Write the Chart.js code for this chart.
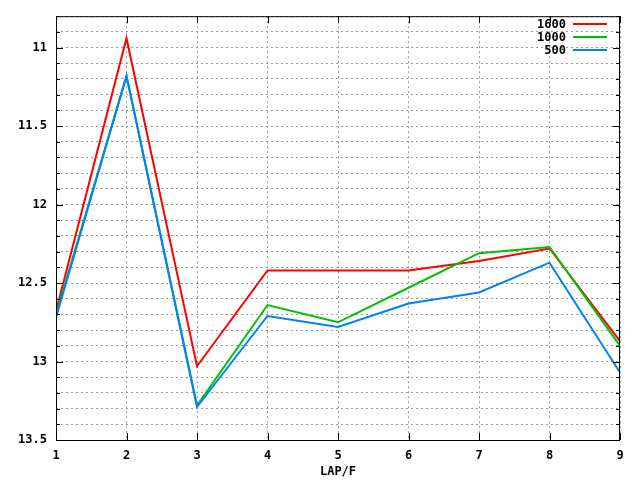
<!DOCTYPE html>
<html>
<head>
<meta charset="utf-8">
<script src="https://cdn.jsdelivr.net/npm/chart.js@4"></script>
<style>
  html, body { margin: 0; padding: 0; background: #fff; }
  #wrap { width: 640px; height: 480px; }
</style>
</head>
<body>
<div id="wrap"><canvas id="myChart" width="640" height="480"></canvas></div>
<script>
// lap numbers and times per series
var laps = [1, 2, 3, 4, 5, 6, 7, 8, 9];
var s1600 = [12.68, 10.94, 13.03, 12.42, 12.42, 12.42, 12.36, 12.28, 12.87];
var s1000 = [12.70, 11.18, 13.28, 12.64, 12.75, 12.53, 12.31, 12.27, 12.90];
var s500 = [12.72, 11.18, 13.29, 12.71, 12.78, 12.63, 12.56, 12.37, 13.07];
var seriesNames = ["1600", "1000", "500"];
var seriesColors = ["#ff0000", "#00c000", "#0080ff"];
var yMin = 10.8;
var yMax = 13.5;

var FONT = "'DejaVu Sans Mono', monospace";

function points(vals) {
  var out = [];
  for (var i = 0; i < laps.length; i++) {
    out.push({ x: laps[i], y: vals[i] });
  }
  return out;
}

function isMajor(v) {
  return Math.abs(v * 2 - Math.round(v * 2)) < 1e-6;
}

// frame, inward ticks and the legend box in the top right corner
var framePlugin = {
  id: "frame",
  afterDraw: function (chart) {
    var ctx = chart.ctx;
    var a = chart.chartArea;
    var xs = chart.scales.x;
    var ys = chart.scales.y;
    ctx.save();
    ctx.strokeStyle = "#000";
    ctx.lineWidth = 1;
    ctx.setLineDash([]);
    ctx.strokeRect(a.left + 0.5, a.top + 0.5, a.right - a.left - 1, a.bottom - a.top);

    ctx.beginPath();
    ys.ticks.forEach(function (t) {
      var py = Math.round(ys.getPixelForValue(t.value)) + 0.5;
      var len = isMajor(t.value) ? 7 : 4;
      ctx.moveTo(a.left, py);
      ctx.lineTo(a.left + len, py);
      ctx.moveTo(a.right, py);
      ctx.lineTo(a.right - len, py);
    });
    xs.ticks.forEach(function (t) {
      var px = Math.round(xs.getPixelForValue(t.value)) + 0.5;
      ctx.moveTo(px, a.bottom);
      ctx.lineTo(px, a.bottom - 7);
      ctx.moveTo(px, a.top);
      ctx.lineTo(px, a.top + 7);
    });
    ctx.stroke();

    ctx.font = "bold 12px " + FONT;
    ctx.textAlign = "right";
    ctx.textBaseline = "middle";
    for (var i = 0; i < seriesNames.length; i++) {
      var ly = 24 + i * 13;
      ctx.fillStyle = "#000";
      ctx.fillText(seriesNames[i], 566, ly + 1);
      ctx.strokeStyle = seriesColors[i];
      ctx.lineWidth = 2;
      ctx.beginPath();
      ctx.moveTo(573, ly);
      ctx.lineTo(607, ly);
      ctx.stroke();
    }
    ctx.restore();
  },
};

var ctx = document.getElementById("myChart").getContext("2d");
var myChart = new Chart(ctx, {
  type: "line",
  data: {
    datasets: [
      { label: seriesNames[0], data: points(s1600), borderColor: seriesColors[0], order: 3 },
      { label: seriesNames[1], data: points(s1000), borderColor: seriesColors[1], order: 2 },
      { label: seriesNames[2], data: points(s500), borderColor: seriesColors[2], order: 1 },
    ],
  },
  options: {
    responsive: false,
    animation: false,
    events: [],
    datasets: {
      line: { borderWidth: 2, pointRadius: 0, tension: 0, fill: false },
    },
    layout: { padding: { top: 13, right: 20, left: 0, bottom: 0 } },
    plugins: { legend: { display: false }, tooltip: { enabled: false } },
    scales: {
      x: {
        type: "linear",
        min: 1,
        max: 9,
        afterFit: function (s) { s.height = 40; },
        ticks: {
          stepSize: 1,
          padding: 9,
          color: "#000",
          font: { family: FONT, size: 12, weight: "bold" },
        },
        grid: {
          drawTicks: false,
          color: "#999999",
          lineWidth: 1,
        },
        border: { display: false, dash: [2, 3] },
        title: {
          display: true,
          text: "LAP/F",
          color: "#000",
          padding: { top: 0, bottom: 1 },
          font: { family: FONT, size: 12, weight: "bold" },
        },
      },
      y: {
        type: "linear",
        reverse: true,
        min: yMin,
        max: yMax,
        afterFit: function (s) { s.width = 56; },
        ticks: {
          stepSize: 0.1,
          autoSkip: false,
          padding: 9,
          color: "#000",
          font: { family: FONT, size: 12, weight: "bold" },
          callback: function (v) {
            return isMajor(v) ? String(Math.round(v * 2) / 2) : "";
          },
        },
        grid: {
          drawTicks: false,
          color: "#999999",
          lineWidth: 1,
        },
        border: { display: false, dash: [2, 3] },
      },
    },
  },
  plugins: [framePlugin],
});
</script>
</body>
</html>
